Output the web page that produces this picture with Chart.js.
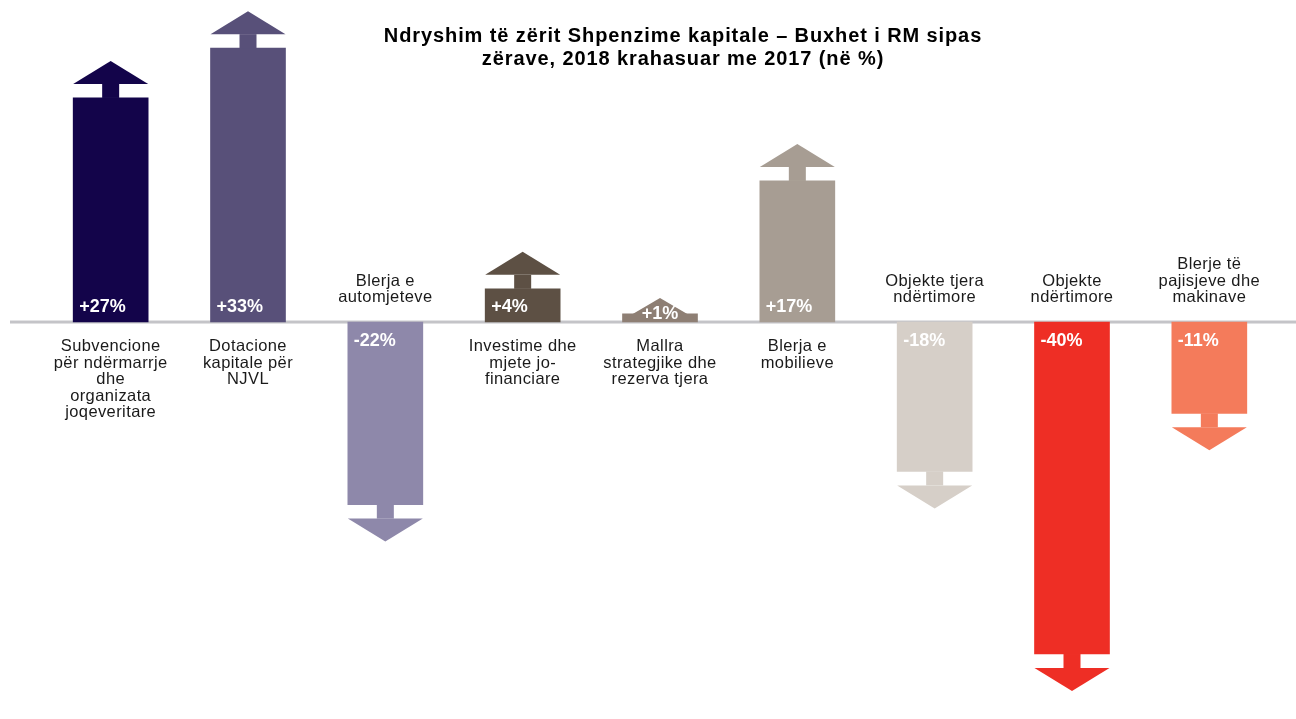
<!DOCTYPE html>
<html>
<head>
<meta charset="utf-8">
<script src="https://cdn.jsdelivr.net/npm/chart.js@4"></script>
<style>
  html, body { margin: 0; padding: 0; background: #fff; }
  #wrap { width: 1296px; height: 719px; position: relative; }
</style>
</head>
<body>
<div id="wrap"><canvas id="c"></canvas></div>
<script>
const categories = [
  ['Subvencione', 'për ndërmarrje', 'dhe', 'organizata', 'joqeveritare'],
  ['Dotacione', 'kapitale për', 'NJVL'],
  ['Blerja e', 'automjeteve'],
  ['Investime dhe', 'mjete jo-', 'financiare'],
  ['Mallra', 'strategjike dhe', 'rezerva tjera'],
  ['Blerja e', 'mobilieve'],
  ['Objekte tjera', 'ndërtimore'],
  ['Objekte', 'ndërtimore'],
  ['Blerje të', 'pajisjeve dhe', 'makinave'],
];
const changes = [27, 33, -22, 4, 1, 17, -18, -40, -11];
const colors = ['#13044a', '#585079', '#8e88aa', '#5d5044', '#8e7f74', '#a79d93', '#d6cfc8', '#ee2e25', '#f47b5b'];
const titleLines = [
  'Ndryshim të zërit Shpenzime kapitale – Buxhet i RM sipas',
  'zërave, 2018 krahasuar me 2017 (në %)',
];

// arrow heads, zero line, value labels, category labels and title
const arrowPlugin = {
  id: 'arrows',
  beforeDatasetsDraw(chart) {
    const { ctx, scales: { y } } = chart;
    const y0 = y.getPixelForValue(0);
    ctx.save();
    ctx.fillStyle = '#c4c4c8';
    ctx.fillRect(10, y0 - 1.5, chart.width - 10, 3);
    ctx.restore();
  },
  afterDatasetsDraw(chart) {
    const { ctx, scales: { y } } = chart;
    const y0 = y.getPixelForValue(0);
    const meta = chart.getDatasetMeta(0);
    ctx.save();
    meta.data.forEach((bar, i) => {
      const v = changes[i];
      const dir = v >= 0 ? -1 : 1;
      const half = bar.width / 2;
      const h = Math.abs(bar.y - y0);
      const small = h < 20;
      const gap = small ? 0 : 14;
      const head = small ? 22 : 23;
      const stem = 8.5;
      ctx.fillStyle = colors[i];
      if (gap) ctx.fillRect(bar.x - stem, Math.min(bar.y, bar.y + dir * gap), stem * 2, gap);
      const base = small ? y0 - 2 : bar.y + dir * gap;
      ctx.beginPath();
      ctx.moveTo(bar.x - half, base);
      ctx.lineTo(bar.x + half, base);
      ctx.lineTo(bar.x, base + dir * head);
      ctx.closePath();
      ctx.fill();

      // value label
      ctx.fillStyle = '#fff';
      ctx.font = 'bold 18px "Liberation Sans", Arial, sans-serif';
      ctx.textBaseline = 'alphabetic';
      const txt = (v > 0 ? '+' : '') + v + '%';
      if (small) {
        ctx.textAlign = 'center';
        ctx.fillText(txt, bar.x, y0 - 3);
      } else if (v > 0) {
        ctx.textAlign = 'left';
        ctx.fillText(txt, bar.x - half + 6, y0 - 10);
      } else {
        ctx.textAlign = 'left';
        ctx.fillText(txt, bar.x - half + 6, y0 + 24);
      }

      // category label
      ctx.fillStyle = '#1a1a1a';
      ctx.font = '16.5px "Liberation Sans", Arial, sans-serif';
      ctx.letterSpacing = '0.4px';
      ctx.textAlign = 'center';
      const lines = categories[i];
      const lh = 16.5;
      if (v > 0) {
        lines.forEach((l, k) => ctx.fillText(l, bar.x, y0 + 29 + k * lh));
      } else {
        lines.forEach((l, k) => ctx.fillText(l, bar.x, y0 - 20 - (lines.length - 1 - k) * lh));
      }
      ctx.letterSpacing = '0px';
    });

    ctx.fillStyle = '#000';
    ctx.font = 'bold 20px "Liberation Sans", Arial, sans-serif';
    ctx.letterSpacing = '0.9px';
    ctx.textAlign = 'center';
    titleLines.forEach((l, k) => ctx.fillText(l, 683, 42 + k * 23));
    ctx.restore();
  },
};

new Chart(document.getElementById('c'), {
  type: 'bar',
  data: {
    labels: categories.map(c => c.join(' ')),
    datasets: [{
      data: changes,
      backgroundColor: colors,
      borderWidth: 0,
      barThickness: 75,
    }],
  },
  options: {
    responsive: true,
    maintainAspectRatio: false,
    animation: false,
    events: [],
    layout: { padding: { left: 42, right: 18, top: 0, bottom: 0 } },
    plugins: {
      legend: { display: false },
      tooltip: { enabled: false },
      title: { display: false },
    },
    scales: {
      x: { display: false },
      y: { display: false, min: -47.83, max: 38.8 },
    },
  },
  plugins: [arrowPlugin],
});
</script>
</body>
</html>
